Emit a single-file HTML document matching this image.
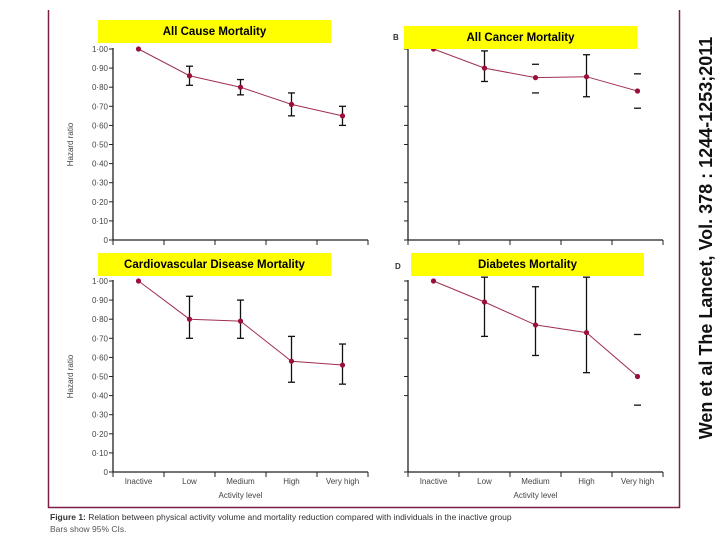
<!DOCTYPE html>
<html><head><meta charset="utf-8"><style>
body{margin:0;background:#fff;width:720px;height:540px;overflow:hidden}
svg{display:block}
</style></head><body>
<svg id="fig" width="720" height="540" xmlns="http://www.w3.org/2000/svg" font-family="Liberation Sans, sans-serif"></svg>
<script>
const categories=["Inactive","Low","Medium","High","Very high"];
const yTicks=[0,0.1,0.2,0.3,0.4,0.5,0.6,0.7,0.8,0.9,1.0];
const yTickLabels=["0","0·10","0·20","0·30","0·40","0·50","0·60","0·70","0·80","0·90","1·00"];
const allCauseHR=[1.00,0.86,0.80,0.71,0.65];
const allCauseLo=[1.00,0.81,0.76,0.65,0.60];
const allCauseHi=[1.00,0.91,0.84,0.77,0.70];
const cancerHR=[1.00,0.90,0.85,0.855,0.78];
const cancerLo=[1.00,0.83,0.77,0.75,0.69];
const cancerHi=[1.00,0.99,0.92,0.97,0.87];
const cancerCapsOnly=[false,false,true,false,true];
const cvdHR=[1.00,0.80,0.79,0.58,0.56];
const cvdLo=[1.00,0.70,0.70,0.47,0.46];
const cvdHi=[1.00,0.92,0.90,0.71,0.67];
const diabHR=[1.00,0.89,0.77,0.73,0.50];
const diabLo=[1.00,0.71,0.61,0.52,0.35];
const diabHi=[1.00,1.02,0.97,1.02,0.72];
const diabCapsOnly=[false,false,false,false,true];

const NS="http://www.w3.org/2000/svg";
const svg=document.getElementById('fig');
function mk(tag,attrs,parent,text){const e=document.createElementNS(NS,tag);for(const k in attrs)e.setAttribute(k,attrs[k]);if(text!==undefined)e.textContent=text;(parent||svg).appendChild(e);return e;}

function panel(o){
  const g=mk('g',{});
  
  
  const yS=v=>o.y0+(o.y1-o.y0)*v;
  const step=(o.xEnd-o.ax)/5;
  const xS=i=>o.ax+step*(i+0.5);
  const ya=mk('line',{x1:o.ax,y1:o.y1-1,x2:o.ax,y2:o.y0,stroke:'#222','stroke-width':1.3},g);
  
  const xa=mk('line',{x1:o.ax,y1:o.y0,x2:o.xEnd,y2:o.y0,stroke:'#222','stroke-width':1.3},g);
  
  for(let i=0;i<=5;i++){
    const t=mk('line',{x1:o.ax+step*i,y1:o.y0,x2:o.ax+step*i,y2:o.y0+5,stroke:'#222','stroke-width':1},g);
    
  }
  yTicks.forEach((v,i)=>{
    if(o.skipTicks&&o.skipTicks.includes(i))return;
    const t=mk('line',{x1:o.ax-4,y1:yS(v),x2:o.ax,y2:yS(v),stroke:'#222','stroke-width':1},g);
    
    if(o.labels){
      const l=mk('text',{x:o.ax-5,y:yS(v)+3,'font-size':8,fill:'#444','text-anchor':'end'},g,yTickLabels[i]);
      
    }
  });
  if(o.labels){
    const yl=mk('text',{x:0,y:0,'font-size':8,fill:'#444','text-anchor':'middle',transform:`translate(${o.ax-40},${(o.y0+o.y1)/2}) rotate(-90)`},g,'Hazard ratio');
    
  }
  if(o.xlabels){
    categories.forEach((c,i)=>{
      const l=mk('text',{x:xS(i),y:o.y0+12,'font-size':8,fill:'#444','text-anchor':'middle'},g,c);
      
    });
    const xt=mk('text',{x:(o.ax+o.xEnd)/2,y:o.y0+26,'font-size':8,fill:'#444','text-anchor':'middle'},g,'Activity level');
    
  }
  o.hr.forEach((v,i)=>{
    if(i===0)return;
    const x=xS(i),capsOnly=o.caps&&o.caps[i];
    if(!capsOnly){
      const b=mk('line',{x1:x,y1:yS(o.lo[i]),x2:x,y2:yS(o.hi[i]),stroke:'#111','stroke-width':1.3},g);
      
    }
    [o.lo[i],o.hi[i]].forEach(c=>{
      const cp=mk('line',{x1:x-3.5,y1:yS(c),x2:x+3.5,y2:yS(c),stroke:'#111','stroke-width':1.3},g);
      
    });
  });
  const pts=o.hr.map((v,i)=>xS(i)+','+yS(v)).join(' ');
  const pl=mk('polyline',{points:pts,fill:'none',stroke:'#a03050','stroke-width':1},g);
  
  o.hr.forEach((v,i)=>{
    const p=mk('circle',{cx:xS(i),cy:yS(v),r:2.6,fill:'#9a1038'},g);
    
    
  });
  const r=mk('rect',{x:o.tx,y:o.ty,width:233,height:23,fill:'#ffff00'},g);
  
  const tt=mk('text',{x:o.tx+116.5,y:o.ty+15,'font-size':11.5,'font-weight':'bold',fill:'#000','text-anchor':'middle'},g,o.title);
  
}

const fr=mk('path',{d:'M48.5 10 V507.5 H679.5 V10',fill:'none',stroke:'#7a2046','stroke-width':1.5});


panel({name:'all-cause-panel',ax:113,xEnd:368,y0:240,y1:49,hr:allCauseHR,lo:allCauseLo,hi:allCauseHi,labels:true,title:'All Cause Mortality',tx:98,ty:20});
panel({name:'all-cancer-panel',ax:408,xEnd:663,y0:240,y1:49,hr:cancerHR,lo:cancerLo,hi:cancerHi,caps:cancerCapsOnly,skipTicks:[4,8,9],title:'All Cancer  Mortality',tx:404,ty:26});
panel({name:'cvd-panel',ax:113,xEnd:368,y0:472,y1:281,hr:cvdHR,lo:cvdLo,hi:cvdHi,labels:true,xlabels:true,title:'Cardiovascular Disease Mortality',tx:98,ty:253});
panel({name:'diabetes-panel',ax:408,xEnd:663,y0:472,y1:281,hr:diabHR,lo:diabLo,hi:diabHi,caps:diabCapsOnly,skipTicks:[1,2,3,6],xlabels:true,title:'Diabetes Mortality',tx:411,ty:253});

const lb=mk('text',{x:393,y:40,'font-size':8,'font-weight':'bold',fill:'#333'},undefined,'B');

const ld=mk('text',{x:395,y:269,'font-size':8,'font-weight':'bold',fill:'#333'},undefined,'D');


const c1=mk('text',{x:50,y:520,'font-size':8.5,fill:'#333'},undefined,'');

mk('tspan',{'font-weight':'bold'},c1,'Figure 1: ');
mk('tspan',{},c1,'Relation between physical activity volume and mortality reduction compared with individuals in the inactive group');
const c2=mk('text',{x:50,y:532,'font-size':8.5,fill:'#555'},undefined,'Bars show 95% CIs.');


const side=mk('text',{x:0,y:0,'font-size':18,'font-weight':'bold',fill:'#111','text-anchor':'middle',transform:'translate(712,238) rotate(-90)'},undefined,'Wen et al  The Lancet, Vol. 378 : 1244-1253;2011');

</script>
</body></html>
